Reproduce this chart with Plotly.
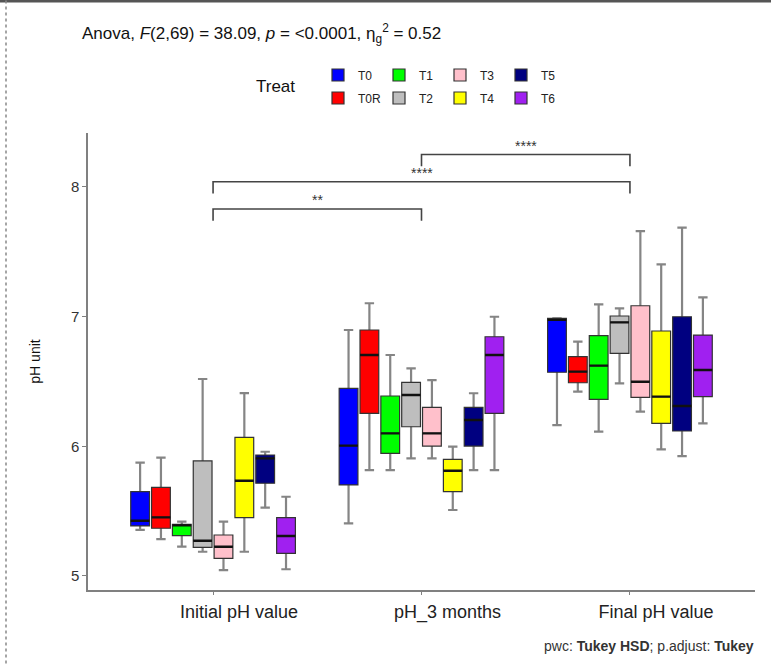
import plotly.graph_objects as go

categories = ["Initial pH value", "pH_3 months", "Final pH value"]
treatments = ["T0", "T0R", "T1", "T2", "T3", "T4", "T5", "T6"]
colors = ["#0000FF", "#FF0000", "#00FF00", "#BEBEBE", "#FFC0CB", "#FFFF00", "#000080", "#A020F0"]
legend_row = ["legend", "legend2", "legend", "legend2", "legend", "legend2", "legend", "legend2"]

# per treatment: values for [Initial, 3 months, Final]
lowerfence = {
    "T0": [5.355, 5.406, 6.164], "T0R": [5.285, 5.817, 6.421], "T1": [5.226, 5.817, 6.113],
    "T2": [5.187, 5.907, 6.486], "T3": [5.046, 5.907, 6.267], "T4": [5.187, 5.509, 5.977],
    "T5": [5.527, 5.817, 5.925], "T6": [5.052, 5.817, 6.177],
}
q1 = {
    "T0": [5.386, 5.702, 6.571], "T0R": [5.368, 6.254, 6.490], "T1": [5.311, 5.946, 6.362],
    "T2": [5.221, 6.151, 6.717], "T3": [5.136, 6.002, 6.378], "T4": [5.450, 5.650, 6.177],
    "T5": [5.715, 6.002, 6.118], "T6": [5.175, 6.254, 6.383],
}
median = {
    "T0": [5.426, 6.005, 6.975], "T0R": [5.452, 6.704, 6.576], "T1": [5.390, 6.100, 6.622],
    "T2": [5.272, 6.396, 6.956], "T3": [5.226, 6.100, 6.498], "T4": [5.735, 5.812, 6.383],
    "T5": [5.907, 6.203, 6.311], "T6": [5.308, 6.704, 6.588],
}
q3 = {
    "T0": [5.650, 6.447, 6.987], "T0R": [5.684, 6.897, 6.691], "T1": [5.399, 6.388, 6.853],
    "T2": [5.887, 6.493, 7.005], "T3": [5.316, 6.300, 7.084], "T4": [6.069, 5.900, 6.889],
    "T5": [5.933, 6.300, 6.999], "T6": [5.450, 6.845, 6.858],
}
upperfence = {
    "T0": [5.874, 6.897, 6.987], "T0R": [5.912, 7.103, 6.807], "T1": [5.419, 6.704, 7.094],
    "T2": [6.519, 6.601, 7.064], "T3": [5.419, 6.511, 7.660], "T4": [6.410, 5.997, 7.403],
    "T5": [5.958, 6.409, 7.686], "T6": [5.611, 6.999, 7.148],
}

comparisons = [("Initial pH value", "pH_3 months", "**"),
               ("Initial pH value", "Final pH value", "****"),
               ("pH_3 months", "Final pH value", "****")]

FONT = "Liberation Sans, Arial, sans-serif"

fig = go.Figure()
for t, c, lg in zip(treatments, colors, legend_row):
    # whiskers (gray)
    fig.add_trace(go.Box(
        x=categories, q1=median[t], median=median[t], q3=median[t],
        lowerfence=lowerfence[t], upperfence=upperfence[t],
        offsetgroup=t, name=t, legendgroup=t, showlegend=False,
        line=dict(color="#858585", width=2.2), fillcolor="rgba(0,0,0,0)",
        hoverinfo="skip"))
    # box body
    fig.add_trace(go.Box(
        x=categories, q1=q1[t], median=median[t], q3=q3[t],
        lowerfence=q1[t], upperfence=q3[t],
        offsetgroup=t, name=t, legendgroup=t, showlegend=True, legend=lg,
        line=dict(color="#333333", width=1.2), fillcolor=c))
    # thick median
    fig.add_trace(go.Box(
        x=categories, q1=median[t], median=median[t], q3=median[t],
        lowerfence=median[t], upperfence=median[t],
        offsetgroup=t, name=t, legendgroup=t, showlegend=False,
        line=dict(color="#111111", width=2.4), fillcolor="rgba(0,0,0,0)",
        hoverinfo="skip"))

# significance brackets
base, step, tip = 7.83, 0.21, 0.09
shapes = []
annotations = []
for i, (a, b, lab) in enumerate(comparisons):
    xa, xb = categories.index(a), categories.index(b)
    yl = base + i * step
    shapes.append(dict(type="path", xref="x", yref="y",
                       path=f"M {xa},{yl - tip} L {xa},{yl} L {xb},{yl} L {xb},{yl - tip}",
                       line=dict(color="#444444", width=1.6)))
    annotations.append(dict(x=(xa + xb) / 2, y=yl, xref="x", yref="y", text=lab,
                            showarrow=False, yanchor="bottom", yshift=-1,
                            font=dict(family=FONT, size=14, color="#333333")))

annotations.append(dict(x=(254 - 88) / 667, y=(590 - 86) / 457, xref="paper", yref="paper",
                        text="Treat", showarrow=False, xanchor="left", yanchor="middle",
                        font=dict(family=FONT, size=17, color="#111111")))
annotations.append(dict(x=(756 - 88) / 667, y=(590 - 646) / 457, xref="paper", yref="paper",
                        text="pwc: <b>Tukey HSD</b>; p.adjust: <b>Tukey</b>",
                        showarrow=False, xanchor="right", yanchor="middle",
                        font=dict(family=FONT, size=14, color="#333333")))

# frame lines of the picture
shapes.append(dict(type="line", xref="paper", yref="paper",
                   x0=-0.14, x1=1.03, y0=589 / 457, y1=589 / 457,
                   line=dict(color="#555555", width=3)))
shapes.append(dict(type="line", xref="paper", yref="paper",
                   x0=(6 - 88) / 667, x1=(6 - 88) / 667, y0=-0.2, y1=1.3,
                   line=dict(color="#888888", width=1.5, dash="dot")))

legend_common = dict(orientation="h", xanchor="left", yanchor="middle",
                     font=dict(family=FONT, size=12, color="#222222"),
                     bgcolor="rgba(0,0,0,0)", entrywidth=16, entrywidthmode="pixels",
                     itemclick=False, itemdoubleclick=False)

fig.update_layout(
    width=771, height=664,
    margin=dict(l=88, r=16, t=133, b=74, autoexpand=False),
    paper_bgcolor="white", plot_bgcolor="white",
    boxmode="group", boxgap=0.2, boxgroupgap=0.1,
    title=dict(text="Anova, <i>F</i>(2,69) = 38.09, <i>p</i> = &lt;0.0001, η<sub>g</sub><sup>2</sup> = 0.52",
               x=82 / 771, xanchor="left", y=1 - 33 / 664, yanchor="middle",
               font=dict(family=FONT, size=17, color="#111111")),
    legend=dict(x=(318 - 88) / 667, y=(590 - 75) / 457, **legend_common),
    legend2=dict(x=(318 - 88) / 667, y=(590 - 98) / 457, **legend_common),
    xaxis=dict(type="category", categoryorder="array", categoryarray=categories,
               range=[-0.6, 2.6], showline=True, linecolor="#808080", linewidth=1.5,
               ticks="outside", ticklen=3, tickcolor="#808080",
               tickfont=dict(family=FONT, size=18, color="#222222"),
               ticklabelshift=26, ticklabelstandoff=2, automargin=False,
               showgrid=False, zeroline=False),
    yaxis=dict(range=[4.892, 8.416], tickvals=[5, 6, 7, 8], showline=True,
               linecolor="#808080", linewidth=1.5, ticks="outside", ticklen=4,
               tickcolor="#808080", tickfont=dict(family=FONT, size=15, color="#333333"),
               showgrid=False, zeroline=False, automargin=False,
               title=dict(text="pH unit", font=dict(family=FONT, size=14, color="#111111"),
                          standoff=27)),
    shapes=shapes, annotations=annotations,
    font=dict(family=FONT),
)

fig.write_html("out.html", config={"displayModeBar": False},
               post_script="document.body.style.margin='0px';")
